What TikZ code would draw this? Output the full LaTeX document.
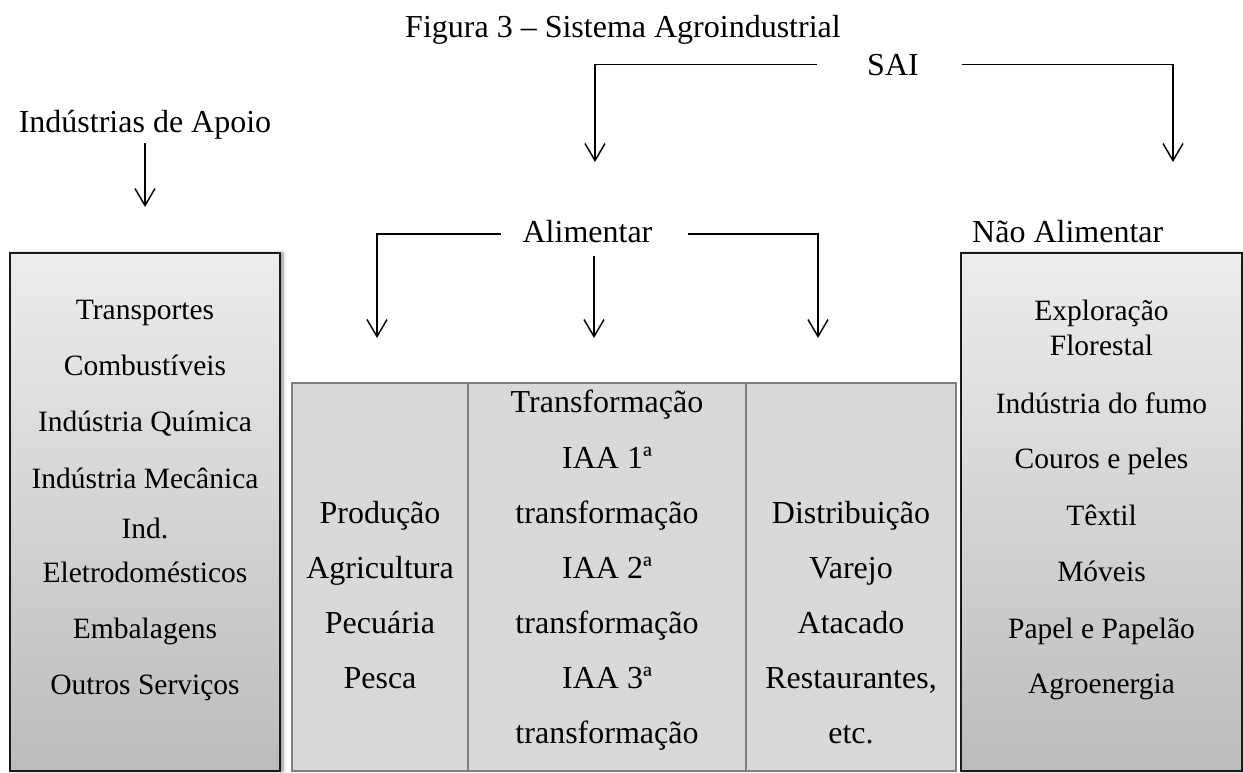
\documentclass[tikz,border=0pt]{standalone}
\usepackage{fontspec}
\setmainfont{Liberation Serif}
\usetikzlibrary{arrows.meta,shadows.blur}
\definecolor{tablefill}{HTML}{D9D9D9}
\definecolor{tableline}{HTML}{808080}
\definecolor{boxtop}{HTML}{EDEDED}
\definecolor{boxbottom}{HTML}{BCBCBC}
\definecolor{boxline}{HTML}{1A1A1A}

\begin{document}
\begin{tikzpicture}[x=1pt,y=-1pt,
  big/.style={font=\fontsize{32}{38}\selectfont, inner sep=0pt, anchor=base},
  small/.style={font=\fontsize{29.5}{35}\selectfont, inner sep=0pt, anchor=base},
  arr/.style={line width=1.5pt, -{Straight Barb[length=17pt,width=20pt]}},
  sidebox/.style={draw=boxline, line width=2.2pt, top color=boxtop, bottom color=boxbottom,
    minimum height=518pt, inner sep=0pt,
    blur shadow={shadow xshift=3pt, shadow yshift=0pt, shadow blur radius=3pt, shadow opacity=45}},
  cell/.style={draw=tableline, line width=1.6pt, fill=tablefill, minimum height=388pt, inner sep=0pt},
]
\useasboundingbox (0,0) rectangle (1243,772);

% side boxes and the three-column table
\node[sidebox, minimum width=270pt] (apoiobox) at (145,512) {};
\node[sidebox, minimum width=281pt] (naobox) at (1101.5,512) {};
\node[cell, minimum width=176pt] (prod) at (380,577) {};
\node[cell, minimum width=278pt] (transf) at (607,577) {};
\node[cell, minimum width=210pt] (distr) at (851,577) {};

% headings
\node[big] (title) at (623,37) {Figura 3 – Sistema Agroindustrial};
\node[big] (sai) at (893,75) {SAI};
\node[big] (apoio) at (145,132) {Indústrias de Apoio};
\node[big] (alim) at (587.5,242) {Alimentar};
\node[big, anchor=base west] (naoalim) at (972,242) {Não Alimentar};

% arrow ends
\coordinate (saiL) at (595,162);
\coordinate (saiR) at (1173,162);
\coordinate (apTip) at (145,207);
\coordinate (aL) at (377,338);
\coordinate (aM) at (594,338);
\coordinate (aR) at (818,338);

\draw[arr] ([xshift=-50pt]sai.west) -| (saiL);
\draw[arr] ([xshift=43pt]sai.east) -| (saiR);
\draw[arr] ([yshift=-4pt]apoio.south) -- (apTip);
\draw[arr] ([xshift=-21pt,yshift=-3pt]alim.west) -| (aL);
\draw[arr] ([xshift=35pt,yshift=-3pt]alim.east) -| (aR);
\draw[arr] ([xshift=6.5pt,yshift=-13pt]alim.south) -- (aM);

% texts of the support industries box
\foreach \t/\y [count=\i] in {Transportes/319, Combustíveis/375, Indústria Química/431,
    Indústria Mecânica/488, Ind./538, Eletrodomésticos/582, Embalagens/638, Outros Serviços/694}
  \node[small] (ap\i) at (145,\y) {\t};

% texts of the non-food box
\foreach \t/\y [count=\i] in {Exploração/320, Florestal/355, Indústria do fumo/413,
    Couros e peles/468, Têxtil/525, Móveis/581, Papel e Papelão/638, Agroenergia/693}
  \node[small] (na\i) at (1101.5,\y) {\t};

% table texts
\foreach \t/\y [count=\i] in {Produção/523, Agricultura/578, Pecuária/633, Pesca/688}
  \node[big] (pr\i) at (380,\y) {\t};
\foreach \t/\y [count=\i] in {Transformação/412, IAA 1ª/468, transformação/523, IAA 2ª/578,
    transformação/633, IAA 3ª/688, transformação/743}
  \node[big] (tr\i) at (607,\y) {\t};
\foreach \t/\y [count=\i] in {Distribuição/523, Varejo/578, Atacado/633, {Restaurantes,}/688, etc./743}
  \node[big] (di\i) at (851,\y) {\t};
\end{tikzpicture}
\end{document}
